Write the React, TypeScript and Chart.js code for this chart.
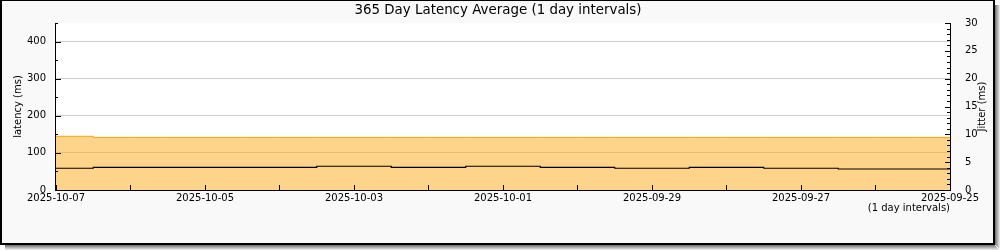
import { useEffect, useRef } from 'react';
import { Chart, registerables } from 'chart.js';

Chart.register(...registerables);

// ---- Data ----
const dayLabels = [
  '2025-10-07', '2025-10-06', '2025-10-05', '2025-10-04', '2025-10-03',
  '2025-10-02', '2025-10-01', '2025-09-30', '2025-09-29', '2025-09-28',
  '2025-09-27', '2025-09-26', '2025-09-25',
];
const dayIndex = [0, 1, 2, 3, 4, 5, 6, 7, 8, 9, 10, 11, 12];
const latencyAvg = [58.5, 61, 61, 61, 64, 61, 64, 61, 58.5, 61, 58.5, 56.6, 56.6];
const jitterValues = [9.65, 9.45, 9.45, 9.45, 9.45, 9.45, 9.45, 9.45, 9.45, 9.45, 9.45, 9.45, 9.45];
const latencyTickLabels = [0, 100, 200, 300, 400];
const jitterTickLabels = [0, 5, 10, 15, 20, 25, 30];
const titleText = '365 Day Latency Average (1 day intervals)';
const intervalNote = '(1 day intervals)';
const leftAxisTitle = 'latency (ms)';
const rightAxisTitle = 'Jitter (ms)';

const FONT = '"DejaVu Sans", sans-serif';

const framePlugin = {
  id: 'frame',
  beforeDraw(chart: any) {
    const { ctx, chartArea: ca } = chart;
    ctx.save();
    ctx.fillStyle = '#ffffff';
    ctx.fillRect(0, 0, chart.width, chart.height);
    const shades = ['#7a7a7a', '#959595', '#b0b0b0', '#cbcbcb', '#e4e4e4'];
    shades.forEach((c, i) => {
      ctx.fillStyle = c;
      ctx.fillRect(995 + i, 5, 1, 245 - 5 + i);
      ctx.fillRect(5, 245 + i, 990 + i, 1);
    });
    ctx.fillStyle = '#000000';
    ctx.fillRect(0, 0, 995, 245);
    ctx.fillStyle = '#f9f9f9';
    ctx.fillRect(2, 1, 991, 242);
    ctx.fillStyle = '#ffffff';
    ctx.fillRect(ca.left, ca.top, ca.right - ca.left, ca.bottom - ca.top);
    ctx.restore();
  },
  afterDatasetsDraw(chart: any) {
    const { ctx, chartArea: ca, scales } = chart;
    const L = Math.round(ca.left) - 1;
    const R = Math.round(ca.right);
    const T = Math.round(ca.top);
    const B = Math.round(ca.bottom);
    ctx.save();
    ctx.fillStyle = '#000000';
    ctx.fillRect(L, T, 1, B - T + 1);
    ctx.fillRect(R, T, 1, B - T + 1);
    ctx.fillRect(L, B, R - L + 1, 1);
    scales.x.ticks.forEach((t: any) => {
      const px = Math.floor(scales.x.getPixelForValue(t.value));
      ctx.fillRect(px, B - 5, 1, 5);
    });
    scales.y.ticks.forEach((t: any) => {
      const py = Math.round(scales.y.getPixelForValue(t.value));
      const len = t.value % 100 === 0 ? 6 : 3;
      ctx.fillRect(L, py, len, 1);
    });
    scales.y1.ticks.forEach((t: any) => {
      const py = Math.round(scales.y1.getPixelForValue(t.value));
      const len = t.value % 5 === 0 ? 5 : 3;
      ctx.fillRect(R - len, py, len, 1);
    });
    ctx.restore();
  },
  afterDraw(chart: any) {
    const { ctx, chartArea: ca } = chart;
    const midY = (ca.top + ca.bottom) / 2;
    ctx.save();
    ctx.fillStyle = '#000000';
    ctx.textBaseline = 'middle';
    ctx.textAlign = 'center';
    ctx.font = `13.4px ${FONT}`;
    ctx.fillText(titleText, 498, 11);
    ctx.font = `10px ${FONT}`;
    ctx.textAlign = 'right';
    ctx.fillText(intervalNote, Math.round(ca.right), 208);
    ctx.textAlign = 'center';
    ctx.save();
    ctx.translate(18, midY);
    ctx.rotate(-Math.PI / 2);
    ctx.fillText(leftAxisTitle, 0, 0);
    ctx.restore();
    ctx.save();
    ctx.translate(982, midY);
    ctx.rotate(-Math.PI / 2);
    ctx.fillText(rightAxisTitle, 0, 0);
    ctx.restore();
    ctx.restore();
  },
};

export default function App() {
  const canvasRef = useRef<HTMLCanvasElement | null>(null);

  useEffect(() => {
    document.body.style.margin = '0';
    const canvas = canvasRef.current;
    if (!canvas) return;
    const tickFont = { family: FONT, size: 10 };
    const chart = new Chart(canvas, {
      type: 'line',
      data: {
        datasets: [
          {
            label: 'Latency average',
            data: dayIndex.map((d, i) => ({ x: d, y: latencyAvg[i] })),
            yAxisID: 'y',
            stepped: 'middle',
            borderColor: '#000000',
            borderWidth: 1.1,
            pointRadius: 0,
            fill: false,
            order: 0,
          },
          {
            label: 'Jitter',
            data: dayIndex.map((d, i) => ({ x: d, y: jitterValues[i] })),
            yAxisID: 'y1',
            stepped: 'middle',
            borderColor: '#f5a50a',
            backgroundColor: 'rgba(252,176,40,0.55)',
            borderWidth: 1,
            pointRadius: 0,
            fill: 'origin',
            order: 1,
          },
        ],
      },
      options: {
        animation: false,
        responsive: false,
        maintainAspectRatio: false,
        layout: { padding: { top: 23, left: 0, right: 0, bottom: 0 } },
        plugins: {
          legend: { display: false },
          title: { display: false },
          tooltip: { enabled: false },
        },
        scales: {
          x: {
            type: 'linear',
            min: 0,
            max: 12,
            grid: { display: false },
            border: { display: false },
            ticks: {
              stepSize: 1,
              autoSkip: false,
              maxRotation: 0,
              minRotation: 0,
              padding: -6,
              color: '#000000',
              font: tickFont,
              callback: (v: any) =>
                Number.isInteger(v) && v % 2 === 0 ? dayLabels[v] : '',
            },
            afterFit: (s: any) => {
              s.height = 60;
            },
          },
          y: {
            type: 'linear',
            position: 'left',
            min: 0,
            max: 450,
            grid: {
              drawTicks: false,
              color: (c: any) => {
                const v = c.tick ? c.tick.value : 0;
                return v > 0 && v < 450 && v % 100 === 0 ? '#cccccc' : 'rgba(0,0,0,0)';
              },
            },
            border: { display: false },
            ticks: {
              stepSize: 50,
              autoSkip: false,
              padding: 10,
              color: '#000000',
              font: tickFont,
              callback: (v: any) => (latencyTickLabels.includes(v) ? String(v) : ''),
            },
            afterFit: (s: any) => {
              s.width = 56;
            },
          },
          y1: {
            type: 'linear',
            position: 'right',
            min: 0,
            max: 30,
            grid: { display: false },
            border: { display: false },
            ticks: {
              stepSize: 1,
              autoSkip: false,
              padding: 7,
              color: '#000000',
              font: tickFont,
              callback: (v: any) => (jitterTickLabels.includes(v) ? String(v) : ''),
            },
            afterFit: (s: any) => {
              s.width = 50;
            },
          },
        },
      },
      plugins: [framePlugin],
    } as any);
    return () => chart.destroy();
  }, []);

  return (
    <div style={{ position: 'absolute', left: 0, top: 0, width: 1000, height: 250 }}>
      <canvas ref={canvasRef} width={1000} height={250} style={{ display: 'block' }} />
    </div>
  );
}
